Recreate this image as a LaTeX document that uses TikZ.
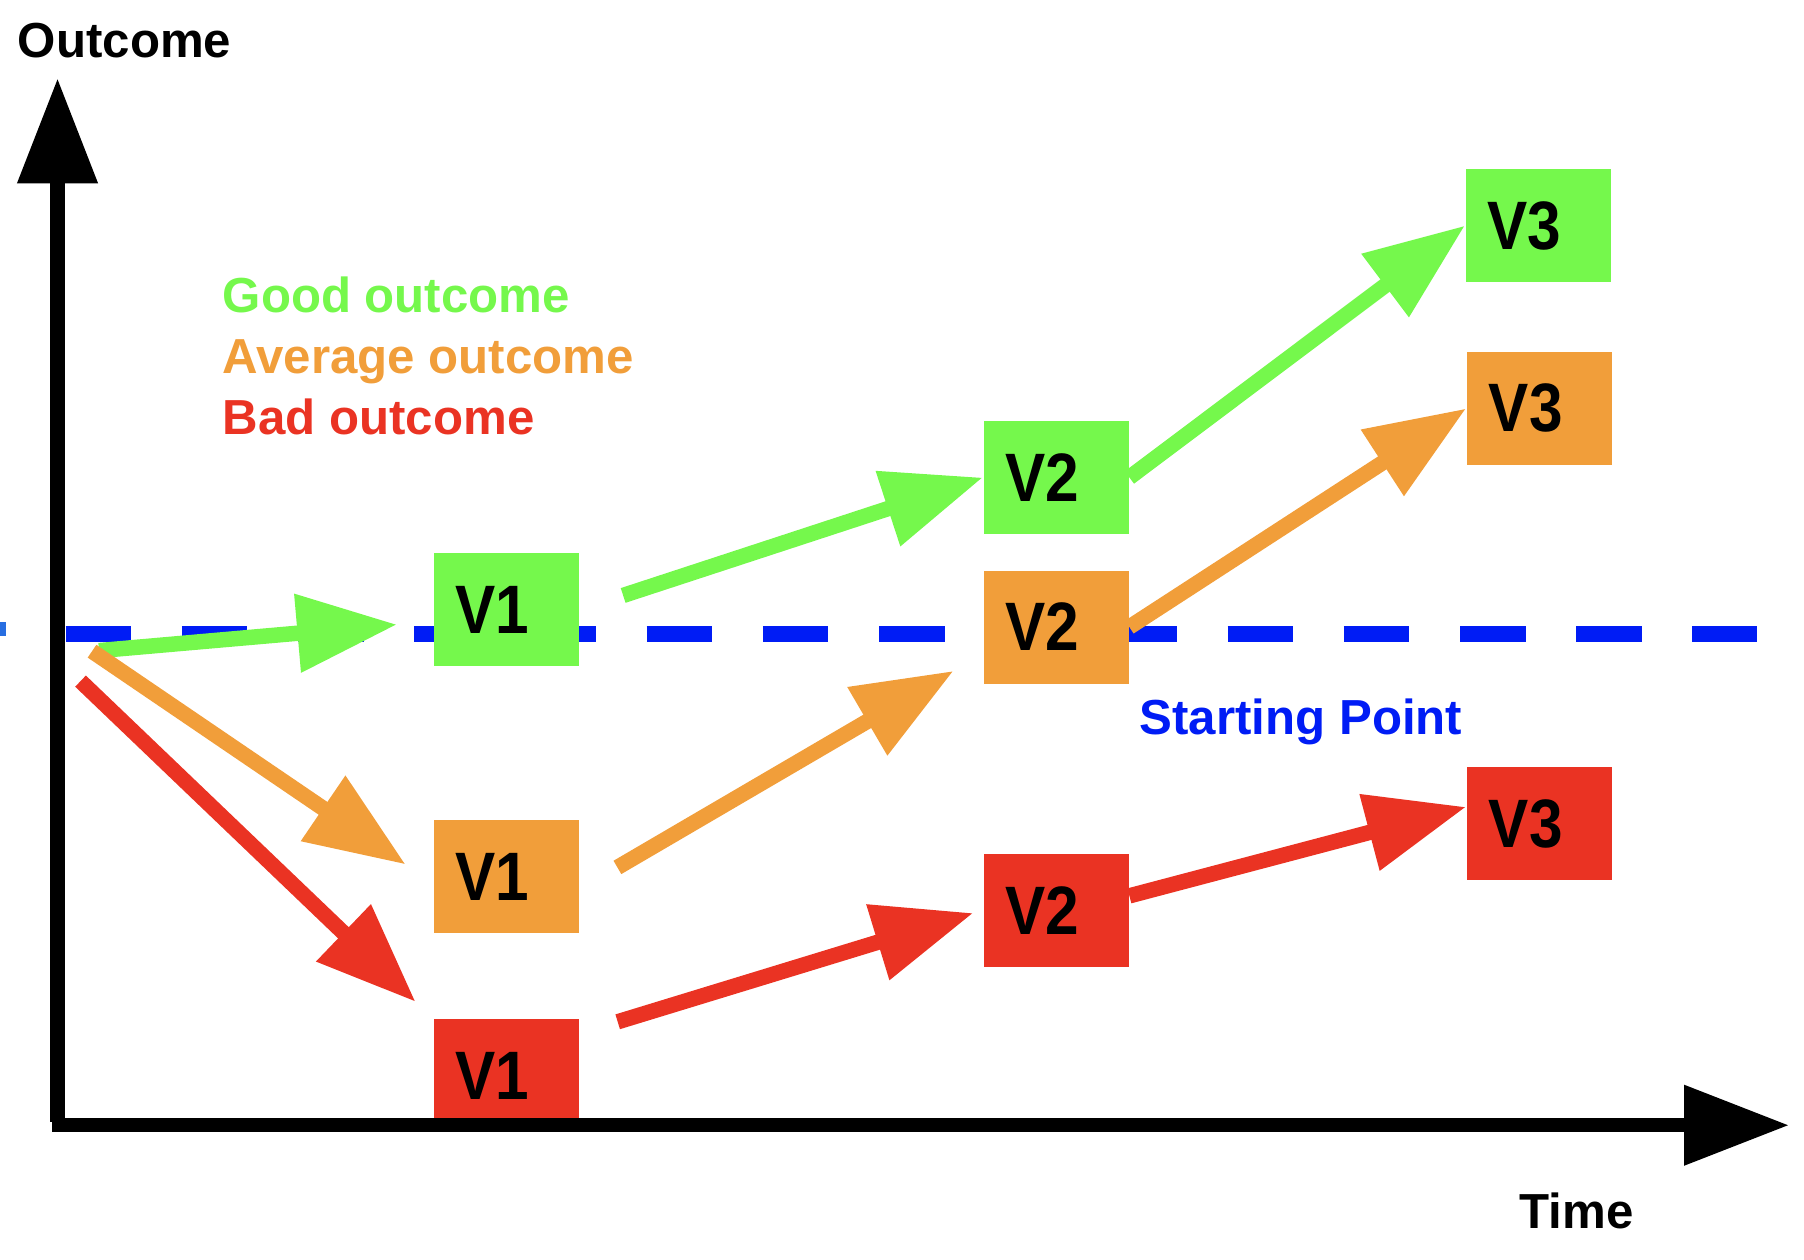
\documentclass[tikz,border=0pt]{standalone}
\usepackage{fontspec}
\setmainfont{Liberation Sans}
\newfontfamily\verfont[FakeStretch=0.88]{Liberation Sans}
\usetikzlibrary{positioning,arrows.meta}
\definecolor{good}{RGB}{117,248,76}
\definecolor{avg}{RGB}{241,158,58}
\definecolor{bad}{RGB}{234,51,35}
\definecolor{startblue}{RGB}{0,28,245}
\definecolor{edgeblue}{RGB}{40,110,225}
\tikzset{
    axisline/.style={line width=4pt, -{Triangle[length=1.05cm,width=0.77cm]}},
    move/.style={line width=4.4pt, -{Triangle[length=1cm,width=0.75cm]}},
    ver/.style={minimum width=1.45cm, minimum height=1.13cm, inner xsep=0.22cm,
        text width=1.01cm, align=left, font=\verfont\fontsize{19.5pt}{21pt}\selectfont\bfseries}
}

\begin{document}
\begin{tikzpicture}[x=0.011505cm, y=-0.011505cm]
\tikzstyle{txt}=[font=\fontsize{14pt}{16pt}\selectfont\bfseries, inner sep=0pt, anchor=base west]

\useasboundingbox (0,0) rectangle (1568,1095);

\coordinate (ybot) at (50,975);
\coordinate (ytop) at (50,68);
\coordinate (xleft) at (45,978);
\coordinate (xright) at (1555,978);
\coordinate (dleft) at (57,551);
\coordinate (dright) at (1527,551);
\coordinate (src) at (80,566);
\coordinate (srcr) at (70,592);

\fill[edgeblue] (0,541) rectangle (5,553);
\draw[startblue, line width=4.8pt, dash pattern=on 0.656cm off 0.506cm] (dleft) -- (dright);

\node[ver, fill=good] (v1g) at (440,530) {V1};
\node[ver, fill=avg] (v1o) at (440,762) {V1};
\node[ver, fill=bad] (v1r) at (440,935) {V1};
\node[ver, fill=good] (v2g) at (918,415) {V2};
\node[ver, fill=avg] (v2o) at (918,545) {V2};
\node[ver, fill=bad] (v2r) at (918,791) {V2};
\node[ver, fill=good] (v3g) at (1337,196) {V3};
\node[ver, fill=avg] (v3o) at (1338,355) {V3};
\node[ver, fill=bad] (v3r) at (1338,716) {V3};

\draw[move, good, shorten <=0.07cm, shorten >=0.36cm] (src) -- (v1g.189);
\draw[move, avg, shorten >=0.33cm] (src) -- (v1o.185);
\draw[move, bad, shorten >=0.24cm] (srcr) -- (v1r.north west);
\draw[move, good, shorten <=0.46cm] (v1g.east) -- (v2g.west);
\draw[move, avg, shorten <=0.44cm, shorten >=0.34cm] (v1o.-10) -- (v2o.200);
\draw[move, bad, shorten <=0.4cm, shorten >=0.1cm] (v1r.30) -- (v2r.west);
\draw[move, good] (v2g.east) -- (v3g.west);
\draw[move, avg] (v2o.east) -- (v3o.west);
\draw[move, bad] (v2r.11) -- (v3r.167);

\draw[axisline] (ybot) -- (ytop);
\draw[axisline] (xleft) -- (xright);

\node[txt] (outcome) at (15,50) {Outcome};
\node[txt, text=good] (good) at (193,272) {Good outcome};
\node[txt, text=avg, below=0.61cm of good.base west, anchor=base west] (average) {Average outcome};
\node[txt, text=bad, below=0.61cm of average.base west, anchor=base west] (bad) {Bad outcome};
\node[txt, text=startblue] (startpt) at (990,638) {Starting Point};
\node[txt] (time) at (1320,1068) {Time};
\end{tikzpicture}
\end{document}
